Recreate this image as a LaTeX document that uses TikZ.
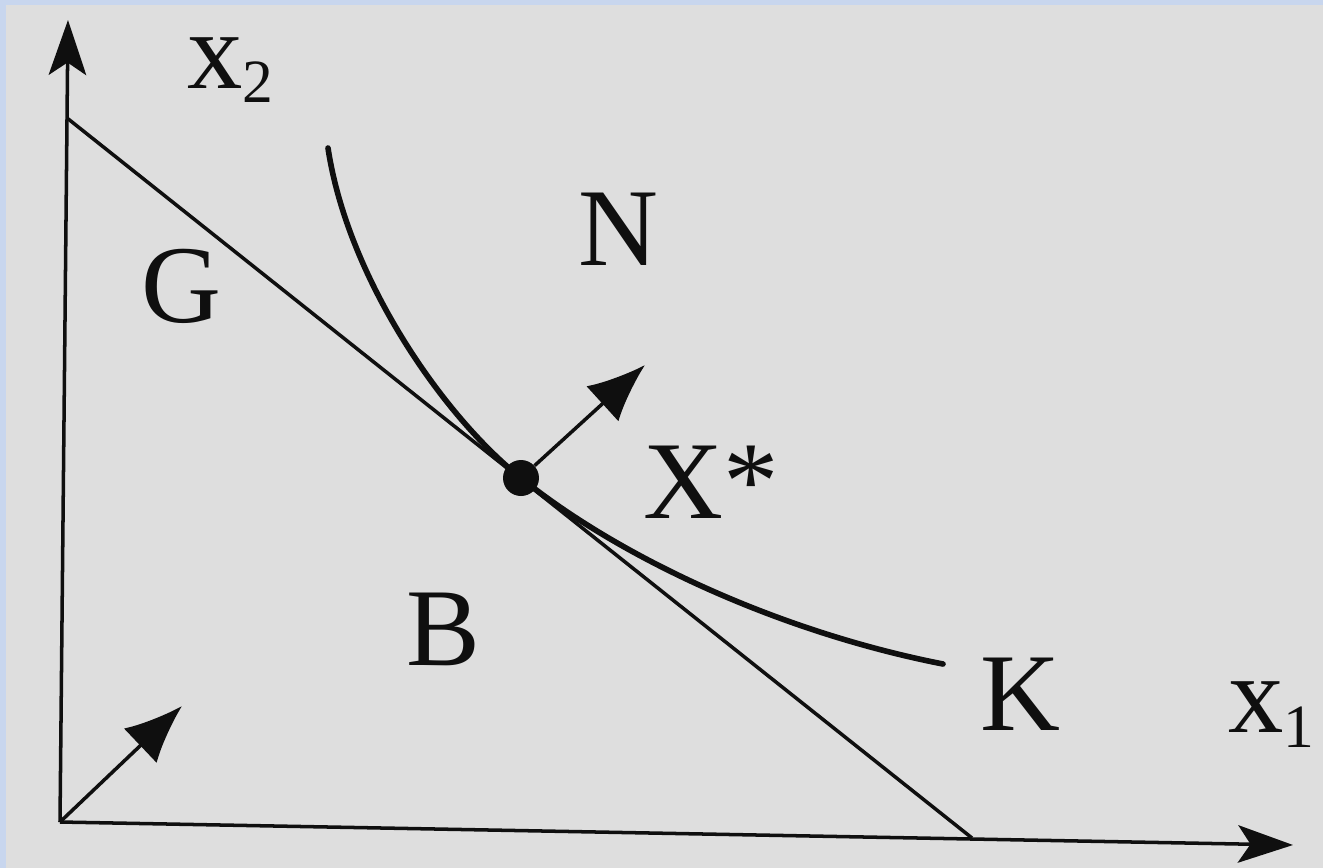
\documentclass[tikz,border=0pt]{standalone}
\usepackage{fontspec}
\setmainfont{Liberation Serif}
\usetikzlibrary{arrows.meta}
\definecolor{ScanGray}{RGB}{222,222,222}
\definecolor{ScanFrame}{RGB}{200,214,238}
\definecolor{ScanInk}{RGB}{15,15,15}

\begin{document}
\begin{tikzpicture}[
    x=0.02cm, y=-0.02cm,
    axis/.style={line width=2pt, draw=ScanInk, -{Stealth[length=1.1cm, width=0.75cm, inset=0.25cm]}},
    budget/.style={line width=2pt, draw=ScanInk},
    isoq/.style={line width=3.2pt, draw=ScanInk, line cap=round},
    grad/.style={line width=2pt, draw=ScanInk, -{Latex[length=1.15cm, width=0.95cm]}},
    lbl/.style={font=\fontsize{63}{63}\selectfont, text=ScanInk, inner sep=0pt, anchor=base west}
  ]
    \useasboundingbox (0,0) rectangle (1323,867);
    \fill[ScanFrame] (-5,-5) rectangle (1330,875);
    \fill[ScanGray] (6,5) rectangle (1330,875);
    % axes
    \coordinate (o) at (60,822);
    \coordinate (ytip) at (68,20);
    \coordinate (xtip) at (1293,845);
    \draw[axis] (o) -- (ytip);
    \draw[axis] (o) -- (xtip);
    % line and curve
    \coordinate (ya) at (67,118);
    \coordinate (xa) at (972,838);
    \draw[budget] (ya) -- (xa);
    \node[circle, fill=ScanInk, minimum size=0.72cm, inner sep=0pt] (opt) at (521,478) {};
    \coordinate (kstart) at (328,148);
    \coordinate (kend) at (943,664);
    \draw[isoq] (kstart) .. controls (348,280) and (445,418) .. (opt.center) .. controls (620,558) and (780,632) .. (kend);
    % arrows
    \coordinate (gtip) at (645,365);
    \coordinate (ctip) at (182,706);
    \draw[grad] (opt) -- (gtip);
    \draw[grad] (o) -- (ctip);
    % labels
    \node[lbl] (xtwo) at (187,88) {x\raisebox{-0.28cm}{\fontsize{35}{35}\selectfont 2}};
    \node[lbl] (xone) at (1228,732) {x\raisebox{-0.3cm}{\fontsize{35}{35}\selectfont 1}};
    \node[lbl] (regG) at (141,322) {G};
    \node[lbl] (regN) at (578,265) {N};
    \node[lbl] (regB) at (406,665) {B};
    \node[lbl] (xstar) at (643,518) {X*};
    \node[lbl] (curK) at (980,730) {K};
\end{tikzpicture}
\end{document}
